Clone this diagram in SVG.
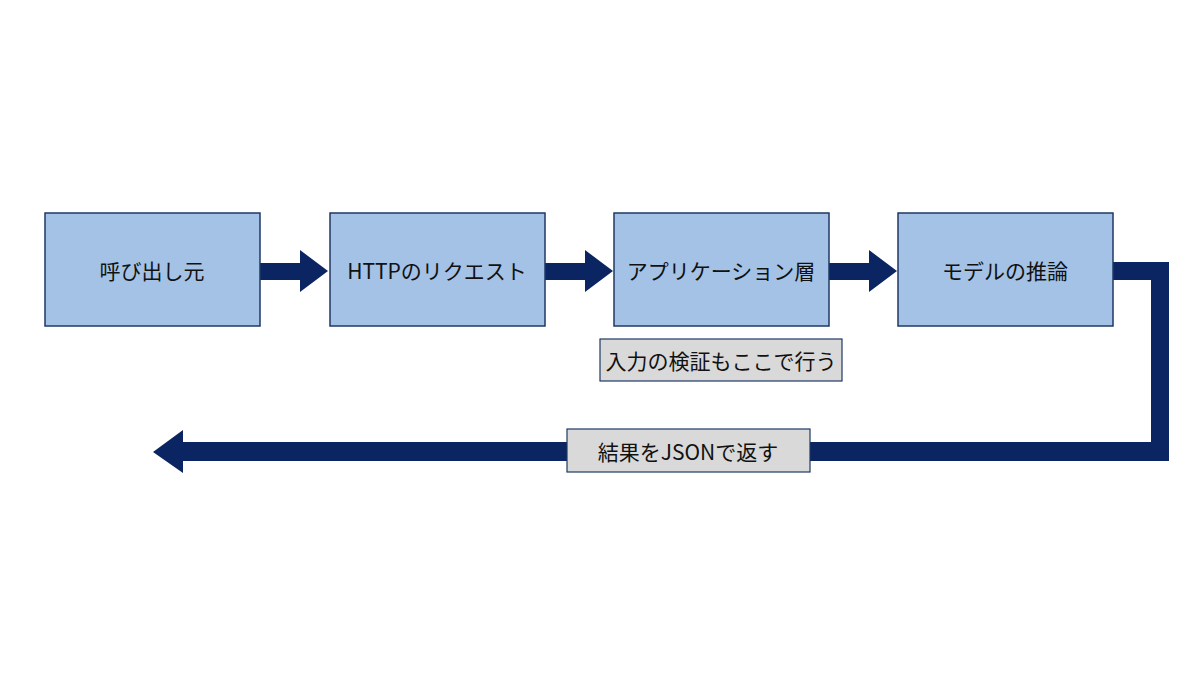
<svg xmlns="http://www.w3.org/2000/svg" width="1200" height="675" viewBox="0 0 1200 675">
<style>
.n{fill:#a4c2e6;stroke:#1f3864;stroke-width:1.5}
.t{font-family:"Noto Sans CJK JP","Noto Sans",sans-serif;font-size:21px;fill:#111;text-anchor:middle;dominant-baseline:central}
.lb{fill:#d9d9d9;stroke:#1f3864;stroke-width:1.2}
.a{fill:#0b2462}
</style>
<rect width="1200" height="675" fill="#fff"/>
<g id="connectors">
<polygon class="a" points="260,263 300,263 300,250 328,271 300,292 300,280 260,280"/>
<polygon class="a" points="545,263 585,263 585,250 613,271 585,292 585,280 545,280"/>
<polygon class="a" points="829,263 869,263 869,250 897,271 869,292 869,280 829,280"/>
<polygon class="a" points="1113,262 1169,262 1169,461 183,461 183,473 153,452 183,430 183,442 1151,442 1151,280 1113,280"/>
</g>
<g id="n1"><rect class="n" x="45" y="213" width="215" height="113"/><text class="t" x="152" y="270">呼び出し元</text></g>
<g id="n2"><rect class="n" x="330" y="213" width="215" height="113"/><text class="t" x="437" y="270">HTTPのリクエスト</text></g>
<g id="n3"><rect class="n" x="614" y="213" width="215" height="113"/><text class="t" x="721" y="270">アプリケーション層</text></g>
<g id="n4"><rect class="n" x="898" y="213" width="215" height="113"/><text class="t" x="1005" y="270">モデルの推論</text></g>
<g id="note"><rect class="lb" x="600" y="339" width="242" height="42"/><text class="t" x="721" y="360">入力の検証もここで行う</text></g>
<g id="ret"><rect class="lb" x="567" y="429" width="243" height="43"/><text class="t" x="688" y="451">結果をJSONで返す</text></g>
</svg>
